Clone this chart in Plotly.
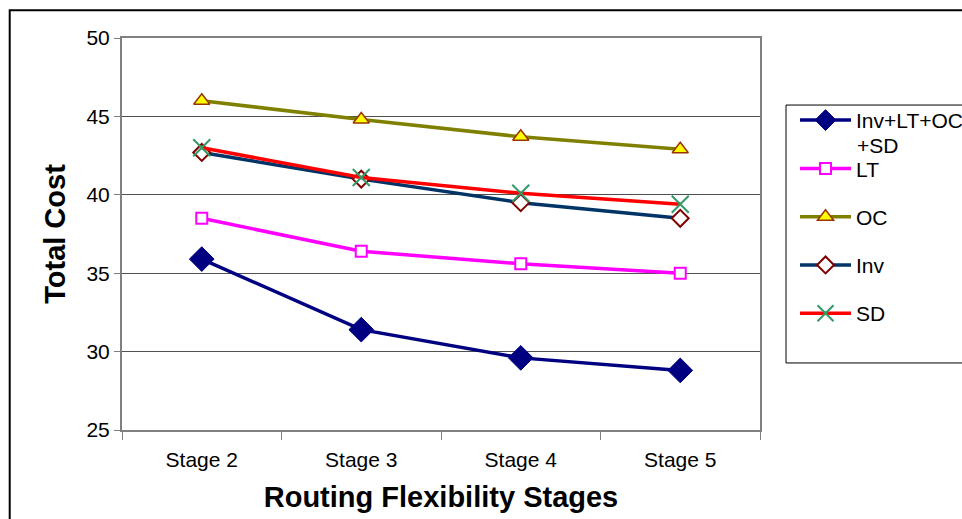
import plotly.graph_objects as go

# Categories and series values
stages = ["Stage 2", "Stage 3", "Stage 4", "Stage 5"]
total_all = [35.9, 31.4, 29.6, 28.8]   # Inv+LT+OC+SD
lt = [38.5, 36.4, 35.6, 35.0]
oc = [46.0, 44.8, 43.7, 42.9]
inv = [42.7, 41.0, 39.5, 38.5]
sd = [43.0, 41.1, 40.1, 39.4]

y_ticks = [25, 30, 35, 40, 45, 50]

FONT = "Liberation Sans, Arial, sans-serif"

series = [
    dict(name="Inv+LT+OC", y=total_all, line="#000080",
         marker=dict(symbol="diamond", size=19, color="#000080",
                     line=dict(color="#000080", width=1))),
    dict(name="LT", y=lt, line="#FF00FF",
         marker=dict(symbol="square", size=11, color="white",
                     line=dict(color="#FF00FF", width=2))),
    dict(name="OC", y=oc, line="#808000",
         marker=dict(symbol="triangle-up", size=14, color="#FFFF00",
                     line=dict(color="#993300", width=1.5))),
    dict(name="Inv", y=inv, line="#003366",
         marker=dict(symbol="diamond", size=13, color="white",
                     line=dict(color="#800000", width=2))),
    dict(name="SD", y=sd, line="#FF0000",
         marker=dict(symbol="x-thin", size=17, color="#339966",
                     line=dict(color="#339966", width=2))),
]

fig = go.Figure()
for s in series:
    fig.add_trace(go.Scatter(
        x=stages, y=s["y"], name=s["name"], mode="lines+markers",
        legendgroup=s["name"],
        line=dict(color=s["line"], width=3.5),
        marker=s["marker"],
    ))

fig.update_layout(
    width=962, height=519,
    margin=dict(l=122, r=202, t=38, b=89, autoexpand=False),
    paper_bgcolor="white", plot_bgcolor="white",
    font=dict(family=FONT, color="black", size=21),
    showlegend=True,
    legend=dict(
        x=1.0549, y=0.842, xanchor="left", yanchor="top",
        borderwidth=0, bgcolor="rgba(0,0,0,0)",
        font=dict(family=FONT, size=21, color="black"),
        tracegroupgap=18, itemwidth=51,
    ),
    xaxis=dict(
        type="category", range=[-0.5, 3.5],
        tickson="boundaries", ticks="outside", ticklen=8, tickcolor="#808080",
        showline=True, linecolor="#808080", linewidth=2, mirror=True,
        showgrid=False, tickfont=dict(size=21), ticklabelstandoff=10,
        title=dict(text="<b>Routing Flexibility Stages</b>",
                   font=dict(size=29), standoff=16),
    ),
    yaxis=dict(
        range=[25, 50], tickvals=y_ticks,
        ticks="outside", ticklen=6, tickcolor="#808080",
        showline=True, linecolor="#808080", linewidth=2, mirror=True,
        showgrid=True, gridcolor="#505050", gridwidth=1,
        tickfont=dict(size=21), zeroline=False,
        title=dict(text="<b>Total Cost</b>", font=dict(size=29), standoff=12),
    ),
)

# Outer chart frame
fig.add_shape(type="rect", xref="paper", yref="paper",
              x0=-0.176, x1=1.5, y0=-0.5, y1=1.071,
              line=dict(color="black", width=2), fillcolor="rgba(0,0,0,0)",
              layer="below")

# Legend box
fig.add_shape(type="rect", xref="paper", yref="paper",
              x0=1.0408, x1=1.4, y0=0.171, y1=0.829,
              line=dict(color="black", width=1), fillcolor="white",
              layer="above")

# Second line of the first legend label
fig.add_annotation(text="+SD", xref="paper", yref="paper",
                   x=1.149, y=0.727, xanchor="left", yanchor="middle",
                   showarrow=False, font=dict(family=FONT, size=21, color="black"))

fig.write_html("out.html")
